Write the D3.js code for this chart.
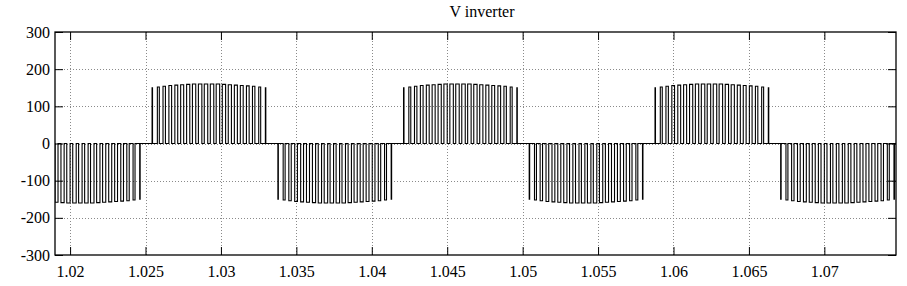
<!DOCTYPE html>
<html>
<head>
<meta charset="utf-8">
<script src="https://cdn.jsdelivr.net/npm/d3@7"></script>
<style>
  body { margin: 0; background: #fff; }
</style>
</head>
<body>
<div id="chart"></div>
<script>
// V inverter

var serif = '"Liberation Serif", "Times New Roman", serif'

// Half-cycle start times (s) and polarity
var halfStarts = [1.01670, 1.02503, 1.03337, 1.04170, 1.05003, 1.05837, 1.06670]
var halfSigns = [-1, 1, -1, 1, -1, 1, -1]

// Pulses inside one half-cycle: centre (ms from half start), width (ms), height (V)
var pulseCentres = [0.42, 0.82, 1.21, 1.61, 2.01, 2.40, 2.80, 3.19, 3.59, 3.98,
                    4.38, 4.77, 5.17, 5.56, 5.96, 6.35, 6.75, 7.14, 7.54, 7.93]
var pulseWidths = [0.03, 0.13, 0.16, 0.18, 0.19, 0.20, 0.21, 0.22, 0.23, 0.23,
                   0.23, 0.23, 0.22, 0.21, 0.20, 0.19, 0.18, 0.16, 0.13, 0.03]
var pulseAmps = [150, 152, 154, 156, 157, 158, 159, 160, 160, 160,
                 160, 160, 159, 158, 157, 156, 155, 154, 152, 150]

var xTicks = [1.02, 1.025, 1.03, 1.035, 1.04, 1.045, 1.05, 1.055, 1.06, 1.065, 1.07]
var yTicks = [-300, -200, -100, 0, 100, 200, 300]
var xDomain = [1.019, 1.07475]
var yDomain = [-300, 300]

var chart = {
  width: 907,
  height: 286,
  left: 55,
  right: 896,
  top: 32,
  bottom: 255,
}

chart.svg = d3.select('#chart')
  .append('svg')
    .attr('width', chart.width)
    .attr('height', chart.height)

var x = d3.scaleLinear().domain(xDomain).range([chart.left, chart.right])
var y = d3.scaleLinear().domain(yDomain).range([chart.bottom, chart.top])

// Grid
var grid = chart.svg.append('g')
  .attr('stroke', '#8a8a8a')
  .attr('stroke-width', 1)
  .attr('stroke-dasharray', '1,2')

grid.selectAll('line.gx')
  .data(xTicks)
  .enter()
  .append('line')
    .attr('class', 'gx')
    .attr('x1', (d) => Math.round(x(d)) + 0.5)
    .attr('x2', (d) => Math.round(x(d)) + 0.5)
    .attr('y1', chart.top)
    .attr('y2', chart.bottom)

grid.selectAll('line.gy')
  .data(yTicks.filter((d) => d > yDomain[0] && d < yDomain[1]))
  .enter()
  .append('line')
    .attr('class', 'gy')
    .attr('x1', chart.left)
    .attr('x2', chart.right)
    .attr('y1', (d) => Math.round(y(d)) + 0.5)
    .attr('y2', (d) => Math.round(y(d)) + 0.5)

// Waveform points
var points = [[xDomain[0], 0]]
halfStarts.forEach((start, i) => {
  var s = halfSigns[i]
  pulseCentres.forEach((c, j) => {
    var t0 = start + (c - pulseWidths[j] / 2) / 1000
    var t1 = start + (c + pulseWidths[j] / 2) / 1000
    points.push([t0, 0], [t0, s * pulseAmps[j]], [t1, s * pulseAmps[j]], [t1, 0])
  })
})
points.push([xDomain[1], 0])

chart.svg.append('clipPath')
  .attr('id', 'plot-clip')
  .append('rect')
    .attr('x', chart.left)
    .attr('y', chart.top)
    .attr('width', chart.right - chart.left)
    .attr('height', chart.bottom - chart.top)

var line = d3.line()
  .x((d) => x(d[0]))
  .y((d) => y(d[1]))

chart.svg.append('path')
  .datum(points)
  .attr('clip-path', 'url(#plot-clip)')
  .attr('d', line)
  .attr('fill', 'none')
  .attr('stroke', '#000')
  .attr('stroke-width', 1.1)

// Axes, ticks inside on all four sides
var tickLen = 8
var plain = (d) => String(d)
chart.svg.append('g')
  .attr('transform', `translate(0,${chart.bottom})`)
  .call(d3.axisBottom(x).tickValues(xTicks).tickSizeInner(-tickLen).tickSizeOuter(0)
    .tickPadding(11).tickFormat(plain))
chart.svg.append('g')
  .attr('transform', `translate(0,${chart.top})`)
  .call(d3.axisTop(x).tickValues(xTicks).tickSizeInner(-tickLen).tickSizeOuter(0).tickFormat(''))
chart.svg.append('g')
  .attr('transform', `translate(${chart.left},0)`)
  .call(d3.axisLeft(y).tickValues(yTicks).tickSizeInner(-tickLen).tickSizeOuter(0)
    .tickPadding(5).tickFormat(plain))
chart.svg.append('g')
  .attr('transform', `translate(${chart.right},0)`)
  .call(d3.axisRight(y).tickValues(yTicks).tickSizeInner(-tickLen).tickSizeOuter(0).tickFormat(''))

chart.svg.selectAll('.domain').remove()
chart.svg.selectAll('.tick line').attr('stroke', '#000')
chart.svg.selectAll('.tick text')
  .attr('font-family', serif)
  .attr('font-size', 16)
  .attr('fill', '#000')

// Frame
chart.svg.append('rect')
  .attr('x', chart.left)
  .attr('y', chart.top)
  .attr('width', chart.right - chart.left)
  .attr('height', chart.bottom - chart.top)
  .attr('fill', 'none')
  .attr('stroke', '#000')
  .attr('stroke-width', 1.3)

// Title
chart.svg.append('text')
  .attr('x', 482)
  .attr('y', 17)
  .attr('text-anchor', 'middle')
  .attr('font-family', serif)
  .attr('font-size', 16)
  .attr('fill', '#000')
  .text('V inverter')
</script>
</body>
</html>
